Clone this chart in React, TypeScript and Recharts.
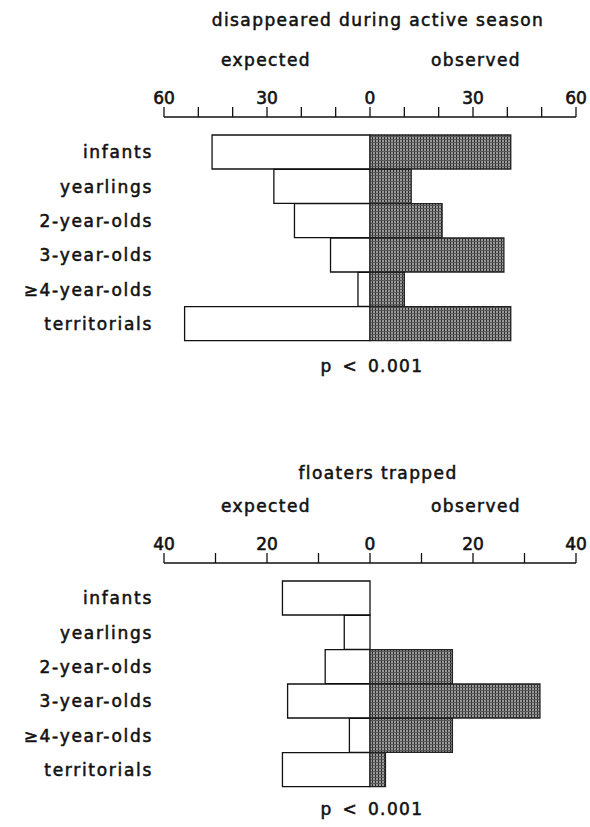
import { Bar, BarChart, XAxis, YAxis } from 'recharts'

const categories = ['infants', 'yearlings', '2-year-olds', '3-year-olds', '≥4-year-olds', 'territorials']

// disappeared during active season
const expectedActive = [46, 28, 22, 11.5, 3.5, 54]
const observedActive = [41, 12, 21, 39, 10, 41]
const activeTicks = [-60, -50, -40, -30, -20, -10, 0, 10, 20, 30, 40, 50, 60]

// floaters trapped
const expectedTrapped = [17, 5, 8.7, 16, 4, 17]
const observedTrapped = [0, 0, 16, 33, 16, 3]
const trappedTicks = [-40, -30, -20, -10, 0, 10, 20, 30, 40]

const FONT = '"DejaVu Sans", "Noto Sans", sans-serif'

const makeTick = (step: number) => (props: any) => {
  const { x, y, payload } = props
  const v = payload.value as number
  if (v % step !== 0) return <g />
  return (
    <text
      x={x}
      y={y - 1}
      textAnchor="middle"
      fontFamily={FONT}
      fontSize={17}
      fill="#111"
      stroke="#111"
      strokeWidth={0.6}
    >
      {Math.abs(v)}
    </text>
  )
}

type PanelProps = {
  top: number
  title: string
  titleY: number
  expected: number[]
  observed: number[]
  ticks: number[]
  labelStep: number
  pY: number
}

function Panel({ top, title, titleY, expected, observed, ticks, labelStep, pY }: PanelProps) {
  const data = categories.map((name, i) => ({ name, expected: -expected[i], observed: observed[i] }))
  const max = ticks[ticks.length - 1]
  const txt = {
    position: 'absolute' as const,
    fontFamily: FONT,
    fontSize: 17,
    letterSpacing: 1.4,
    color: '#111',
    lineHeight: '20px',
    WebkitTextStroke: '0.55px #111',
  }
  return (
    <div style={{ position: 'absolute', left: 0, top, width: 590, height: 420 }}>
      <div style={{ ...txt, left: 0, width: 756, textAlign: 'center', top: titleY }}>{title}</div>
      <div style={{ ...txt, left: 166, width: 200, textAlign: 'center', top: 50 }}>expected</div>
      <div style={{ ...txt, left: 376, width: 200, textAlign: 'center', top: 50 }}>observed</div>
      <div style={{ position: 'absolute', left: 0, top: 0 }}>
        <BarChart
          width={590}
          height={345}
          data={data}
          layout="vertical"
          stackOffset="sign"
          barCategoryGap={0}
          margin={{ top: 0, right: 14, left: 0, bottom: 4 }}
        >
          <defs>
            <pattern id={`stip${top}`} width="3" height="3" patternUnits="userSpaceOnUse">
              <rect width="3" height="3" fill="#9a9a9a" />
              <rect width="1" height="3" fill="#2c2c2c" />
              <rect width="3" height="1" y="1" fill="#585858" />
            </pattern>
          </defs>
          <XAxis
            type="number"
            orientation="top"
            domain={[-max, max]}
            ticks={ticks}
            interval={0}
            height={117}
            tickSize={10}
            tickMargin={2}
            tick={makeTick(labelStep)}
            axisLine={{ stroke: '#111', strokeWidth: 1.3 }}
            tickLine={{ stroke: '#111', strokeWidth: 1.3 }}
          />
          <YAxis
            type="category"
            dataKey="name"
            width={164}
            padding={{ top: 18, bottom: 0 }}
            tickLine={false}
            axisLine={false}
            tickSize={0}
            tickMargin={11}
            tick={{ fontFamily: FONT, fontSize: 17, fill: '#111', stroke: '#111', strokeWidth: 0.55, letterSpacing: 1.7 } as any}
          />
          <Bar dataKey="expected" stackId="s" fill="#fff" stroke="#111" strokeWidth={1.3} isAnimationActive={false} />
          <Bar dataKey="observed" stackId="s" fill={`url(#stip${top})`} stroke="#222" strokeWidth={1.3} isAnimationActive={false} />
        </BarChart>
      </div>
      <div style={{ ...txt, left: 272, width: 200, textAlign: 'center', top: pY, wordSpacing: 3 }}>p &lt; 0.001</div>
    </div>
  )
}

export default function App() {
  return (
    <div style={{ position: 'absolute', left: 0, top: 0, width: 590, height: 827, background: '#fff' }}>
      <Panel top={0} title="disappeared during active season" titleY={10} expected={expectedActive} observed={observedActive} ticks={activeTicks} labelStep={30} pY={356} />
      <Panel top={446} title="floaters trapped" titleY={17} expected={expectedTrapped} observed={observedTrapped} ticks={trappedTicks} labelStep={20} pY={353} />
    </div>
  )
}
